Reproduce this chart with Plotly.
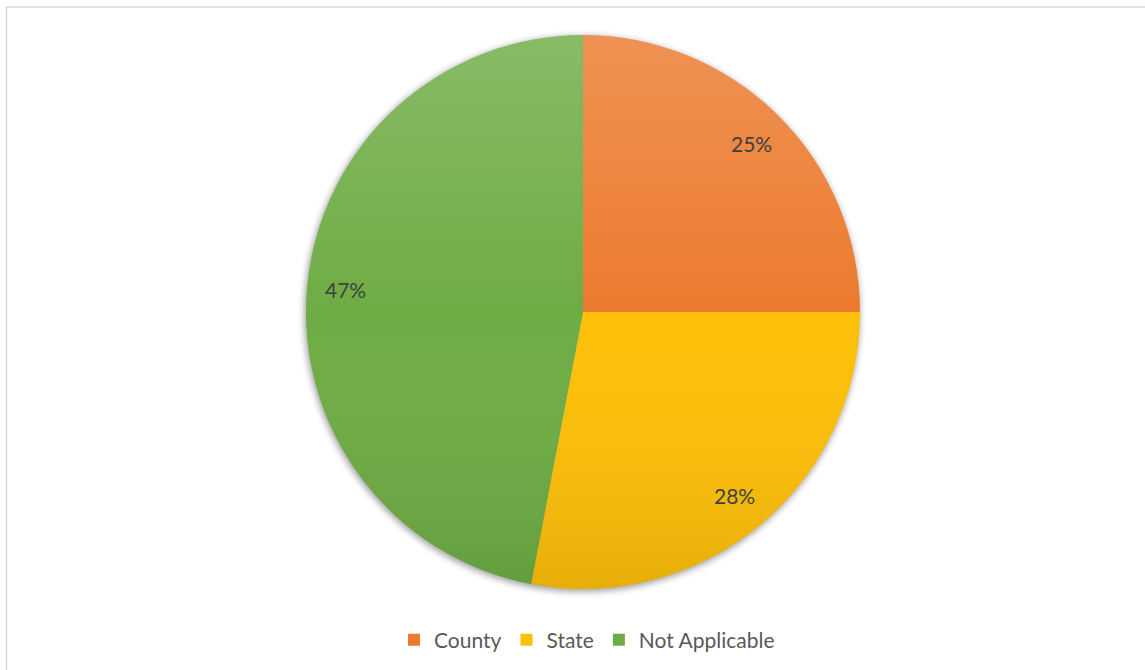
import base64
import math
import plotly.graph_objects as go

# Share of records by jurisdiction
categories = ["County", "State", "Not Applicable"]
shares = [25, 28, 47]
colors = ["#EC7A2E", "#FDBF08", "#6EAC44"]

W, H = 1145, 670
CX, CY, R = 583, 312, 277          # pie centre and radius, in pixels
LABEL_R = 0.86                     # data labels sit at this fraction of the radius


def px_x(x):
    return x / W


def px_y(y):
    return 1 - y / H


def svg_uri(svg):
    return "data:image/svg+xml;base64," + base64.b64encode(svg.encode()).decode()


fig = go.Figure(
    go.Pie(
        labels=categories,
        values=shares,
        sort=False,
        direction="clockwise",
        rotation=0,
        marker=dict(colors=colors, line=dict(width=0)),
        textinfo="none",
        hoverinfo="label+percent",
        domain=dict(x=[px_x(CX - R), px_x(CX + R)], y=[px_y(CY + R), px_y(CY - R)]),
    )
)

# percentage labels placed along each slice's bisector
total = sum(shares)
cum = 0
annotations = []
for v in shares:
    theta = 2 * math.pi * (cum + v / 2) / total
    cum += v
    lx = CX + LABEL_R * R * math.sin(theta)
    ly = CY - LABEL_R * R * math.cos(theta)
    annotations.append(
        dict(
            x=px_x(lx), y=px_y(ly), xref="paper", yref="paper",
            text=f"{round(100 * v / total)}%", showarrow=False,
            font=dict(family="Lato, 'Open Sans', sans-serif", size=21, color="#404040"),
            xanchor="center", yanchor="middle",
        )
    )

# soft drop shadow beneath the pie
pad = 20
shadow_svg = (
    f'<svg xmlns="http://www.w3.org/2000/svg" width="{2*R+2*pad}" height="{2*R+2*pad}">'
    '<defs><filter id="b" x="-20%" y="-20%" width="140%" height="140%">'
    '<feGaussianBlur stdDeviation="3"/></filter></defs>'
    f'<circle cx="{R+pad-1}" cy="{R+pad+2}" r="{R+1}" fill="#000" fill-opacity="0.35" filter="url(#b)"/>'
    '</svg>'
)
# vertical sheen over the pie: lighter at the top, darker at the bottom
sheen_svg = (
    f'<svg xmlns="http://www.w3.org/2000/svg" width="{2*R}" height="{2*R}">'
    '<defs><linearGradient id="g" x1="0" y1="0" x2="0" y2="1">'
    '<stop offset="0" stop-color="#fff" stop-opacity="0.18"/>'
    '<stop offset="0.5" stop-color="#fff" stop-opacity="0"/>'
    '<stop offset="1" stop-color="#000" stop-opacity="0.09"/>'
    '</linearGradient></defs>'
    f'<circle cx="{R}" cy="{R}" r="{R}" fill="url(#g)"/></svg>'
)

images = [
    dict(
        source=svg_uri(shadow_svg), xref="paper", yref="paper",
        x=px_x(CX - R - pad), y=px_y(CY - R - pad),
        sizex=(2 * R + 2 * pad) / W, sizey=(2 * R + 2 * pad) / H,
        xanchor="left", yanchor="top", sizing="stretch", layer="below",
    ),
    dict(
        source=svg_uri(sheen_svg), xref="paper", yref="paper",
        x=px_x(CX - R), y=px_y(CY - R),
        sizex=2 * R / W, sizey=2 * R / H,
        xanchor="left", yanchor="top", sizing="stretch", layer="above",
    ),
]

fig.update_layout(
    width=W,
    height=H,
    margin=dict(l=0, r=0, t=0, b=0),
    paper_bgcolor="white",
    plot_bgcolor="white",
    showlegend=True,
    legend=dict(
        orientation="h",
        x=px_x(587), xanchor="center",
        y=px_y(640), yanchor="middle",
        font=dict(family="Lato, 'Open Sans', sans-serif", size=21, color="#595959"),
        itemwidth=30,
        tracegroupgap=0,
    ),
    annotations=annotations,
    images=images,
    shapes=[
        dict(
            type="rect", xref="paper", yref="paper",
            x0=px_x(6.5), x1=1.02, y0=-0.02, y1=px_y(7),
            line=dict(color="#D9D9D9", width=1.5), fillcolor="rgba(0,0,0,0)",
        )
    ],
)

fig.write_html("out.html")
